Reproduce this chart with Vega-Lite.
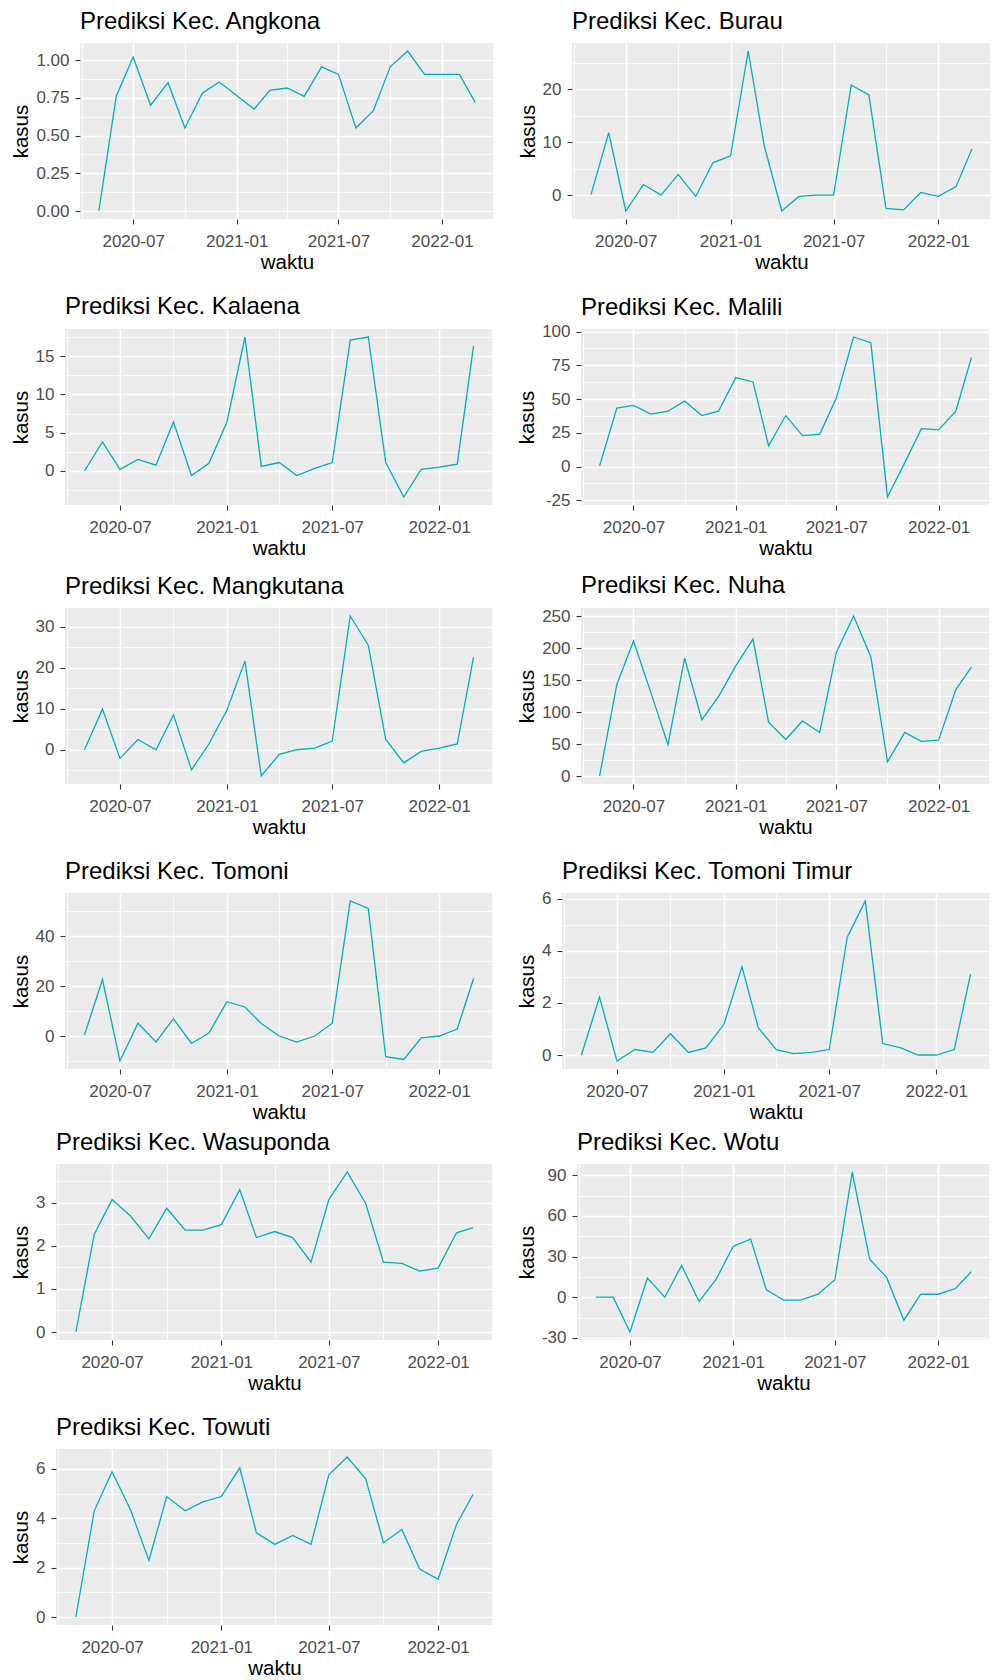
{
"$schema": "https://vega.github.io/schema/vega-lite/v6.json",
"padding": {"left": 10, "top": 10, "right": 0, "bottom": 0},
"datasets": {
"Angkona": [{"waktu":"2020-05-01","kasus":0},{"waktu":"2020-06-01","kasus":0.76},{"waktu":"2020-07-01","kasus":1.02},{"waktu":"2020-08-01","kasus":0.70},{"waktu":"2020-09-01","kasus":0.85},{"waktu":"2020-10-01","kasus":0.55},{"waktu":"2020-11-01","kasus":0.78},{"waktu":"2020-12-01","kasus":0.855},{"waktu":"2021-01-01","kasus":0.765},{"waktu":"2021-02-01","kasus":0.675},{"waktu":"2021-03-01","kasus":0.80},{"waktu":"2021-04-01","kasus":0.815},{"waktu":"2021-05-01","kasus":0.76},{"waktu":"2021-06-01","kasus":0.955},{"waktu":"2021-07-01","kasus":0.905},{"waktu":"2021-08-01","kasus":0.55},{"waktu":"2021-09-01","kasus":0.665},{"waktu":"2021-10-01","kasus":0.955},{"waktu":"2021-11-01","kasus":1.06},{"waktu":"2021-12-01","kasus":0.905},{"waktu":"2022-01-01","kasus":0.905},{"waktu":"2022-02-01","kasus":0.905},{"waktu":"2022-03-01","kasus":0.72}],
"Burau": [{"waktu":"2020-05-01","kasus":0.1},{"waktu":"2020-06-01","kasus":11.8},{"waktu":"2020-07-01","kasus":-3.0},{"waktu":"2020-08-01","kasus":2.0},{"waktu":"2020-09-01","kasus":0},{"waktu":"2020-10-01","kasus":3.9},{"waktu":"2020-11-01","kasus":-0.25},{"waktu":"2020-12-01","kasus":6.1},{"waktu":"2021-01-01","kasus":7.4},{"waktu":"2021-02-01","kasus":27.2},{"waktu":"2021-03-01","kasus":9.4},{"waktu":"2021-04-01","kasus":-3.0},{"waktu":"2021-05-01","kasus":-0.25},{"waktu":"2021-06-01","kasus":0},{"waktu":"2021-07-01","kasus":0},{"waktu":"2021-08-01","kasus":20.8},{"waktu":"2021-09-01","kasus":18.9},{"waktu":"2021-10-01","kasus":-2.5},{"waktu":"2021-11-01","kasus":-2.8},{"waktu":"2021-12-01","kasus":0.5},{"waktu":"2022-01-01","kasus":-0.25},{"waktu":"2022-02-01","kasus":1.6},{"waktu":"2022-03-01","kasus":8.7}],
"Kalaena": [{"waktu":"2020-05-01","kasus":0},{"waktu":"2020-06-01","kasus":3.8},{"waktu":"2020-07-01","kasus":0.2},{"waktu":"2020-08-01","kasus":1.5},{"waktu":"2020-09-01","kasus":0.75},{"waktu":"2020-10-01","kasus":6.4},{"waktu":"2020-11-01","kasus":-0.6},{"waktu":"2020-12-01","kasus":1.0},{"waktu":"2021-01-01","kasus":6.4},{"waktu":"2021-02-01","kasus":17.5},{"waktu":"2021-03-01","kasus":0.6},{"waktu":"2021-04-01","kasus":1.1},{"waktu":"2021-05-01","kasus":-0.6},{"waktu":"2021-06-01","kasus":0.35},{"waktu":"2021-07-01","kasus":1.1},{"waktu":"2021-08-01","kasus":17.1},{"waktu":"2021-09-01","kasus":17.5},{"waktu":"2021-10-01","kasus":1.1},{"waktu":"2021-11-01","kasus":-3.4},{"waktu":"2021-12-01","kasus":0.2},{"waktu":"2022-01-01","kasus":0.5},{"waktu":"2022-02-01","kasus":0.9},{"waktu":"2022-03-01","kasus":16.3}],
"Malili": [{"waktu":"2020-05-01","kasus":0.5},{"waktu":"2020-06-01","kasus":43.3},{"waktu":"2020-07-01","kasus":45.3},{"waktu":"2020-08-01","kasus":38.8},{"waktu":"2020-09-01","kasus":41},{"waktu":"2020-10-01","kasus":48.5},{"waktu":"2020-11-01","kasus":37.8},{"waktu":"2020-12-01","kasus":41},{"waktu":"2021-01-01","kasus":65.9},{"waktu":"2021-02-01","kasus":62.7},{"waktu":"2021-03-01","kasus":15.4},{"waktu":"2021-04-01","kasus":37.8},{"waktu":"2021-05-01","kasus":22.9},{"waktu":"2021-06-01","kasus":23.9},{"waktu":"2021-07-01","kasus":50.7},{"waktu":"2021-08-01","kasus":96},{"waktu":"2021-09-01","kasus":91.8},{"waktu":"2021-10-01","kasus":-22.6},{"waktu":"2021-11-01","kasus":2.7},{"waktu":"2021-12-01","kasus":28.1},{"waktu":"2022-01-01","kasus":27.1},{"waktu":"2022-02-01","kasus":41},{"waktu":"2022-03-01","kasus":80.8}],
"Mangkutana": [{"waktu":"2020-05-01","kasus":0},{"waktu":"2020-06-01","kasus":9.9},{"waktu":"2020-07-01","kasus":-2.1},{"waktu":"2020-08-01","kasus":2.5},{"waktu":"2020-09-01","kasus":0},{"waktu":"2020-10-01","kasus":8.5},{"waktu":"2020-11-01","kasus":-4.9},{"waktu":"2020-12-01","kasus":1.4},{"waktu":"2021-01-01","kasus":9.7},{"waktu":"2021-02-01","kasus":21.6},{"waktu":"2021-03-01","kasus":-6.4},{"waktu":"2021-04-01","kasus":-1.1},{"waktu":"2021-05-01","kasus":0},{"waktu":"2021-06-01","kasus":0.4},{"waktu":"2021-07-01","kasus":2.1},{"waktu":"2021-08-01","kasus":32.6},{"waktu":"2021-09-01","kasus":25.5},{"waktu":"2021-10-01","kasus":2.5},{"waktu":"2021-11-01","kasus":-3.2},{"waktu":"2021-12-01","kasus":-0.4},{"waktu":"2022-01-01","kasus":0.4},{"waktu":"2022-02-01","kasus":1.4},{"waktu":"2022-03-01","kasus":22.6}],
"Nuha": [{"waktu":"2020-05-01","kasus":0},{"waktu":"2020-06-01","kasus":143},{"waktu":"2020-07-01","kasus":211},{"waktu":"2020-08-01","kasus":131},{"waktu":"2020-09-01","kasus":49},{"waktu":"2020-10-01","kasus":184},{"waktu":"2020-11-01","kasus":88},{"waktu":"2020-12-01","kasus":124},{"waktu":"2021-01-01","kasus":172},{"waktu":"2021-02-01","kasus":214},{"waktu":"2021-03-01","kasus":84},{"waktu":"2021-04-01","kasus":57},{"waktu":"2021-05-01","kasus":86},{"waktu":"2021-06-01","kasus":68},{"waktu":"2021-07-01","kasus":193},{"waktu":"2021-08-01","kasus":250},{"waktu":"2021-09-01","kasus":186},{"waktu":"2021-10-01","kasus":22},{"waktu":"2021-11-01","kasus":68},{"waktu":"2021-12-01","kasus":54},{"waktu":"2022-01-01","kasus":56},{"waktu":"2022-02-01","kasus":135},{"waktu":"2022-03-01","kasus":170}],
"Tomoni": [{"waktu":"2020-05-01","kasus":0.4},{"waktu":"2020-06-01","kasus":22.6},{"waktu":"2020-07-01","kasus":-10},{"waktu":"2020-08-01","kasus":5.1},{"waktu":"2020-09-01","kasus":-2.4},{"waktu":"2020-10-01","kasus":6.9},{"waktu":"2020-11-01","kasus":-3.0},{"waktu":"2020-12-01","kasus":1.2},{"waktu":"2021-01-01","kasus":13.7},{"waktu":"2021-02-01","kasus":11.6},{"waktu":"2021-03-01","kasus":5.0},{"waktu":"2021-04-01","kasus":0},{"waktu":"2021-05-01","kasus":-2.4},{"waktu":"2021-06-01","kasus":0},{"waktu":"2021-07-01","kasus":5.1},{"waktu":"2021-08-01","kasus":54},{"waktu":"2021-09-01","kasus":51},{"waktu":"2021-10-01","kasus":-8.3},{"waktu":"2021-11-01","kasus":-9.4},{"waktu":"2021-12-01","kasus":-0.7},{"waktu":"2022-01-01","kasus":0},{"waktu":"2022-02-01","kasus":2.8},{"waktu":"2022-03-01","kasus":23}],
"TomoniTimur": [{"waktu":"2020-05-01","kasus":0},{"waktu":"2020-06-01","kasus":2.23},{"waktu":"2020-07-01","kasus":-0.23},{"waktu":"2020-08-01","kasus":0.21},{"waktu":"2020-09-01","kasus":0.1},{"waktu":"2020-10-01","kasus":0.82},{"waktu":"2020-11-01","kasus":0.1},{"waktu":"2020-12-01","kasus":0.27},{"waktu":"2021-01-01","kasus":1.18},{"waktu":"2021-02-01","kasus":3.39},{"waktu":"2021-03-01","kasus":1.05},{"waktu":"2021-04-01","kasus":0.21},{"waktu":"2021-05-01","kasus":0.05},{"waktu":"2021-06-01","kasus":0.1},{"waktu":"2021-07-01","kasus":0.21},{"waktu":"2021-08-01","kasus":4.53},{"waktu":"2021-09-01","kasus":5.92},{"waktu":"2021-10-01","kasus":0.44},{"waktu":"2021-11-01","kasus":0.27},{"waktu":"2021-12-01","kasus":0},{"waktu":"2022-01-01","kasus":0},{"waktu":"2022-02-01","kasus":0.21},{"waktu":"2022-03-01","kasus":3.11}],
"Wasuponda": [{"waktu":"2020-05-01","kasus":0},{"waktu":"2020-06-01","kasus":2.27},{"waktu":"2020-07-01","kasus":3.07},{"waktu":"2020-08-01","kasus":2.69},{"waktu":"2020-09-01","kasus":2.16},{"waktu":"2020-10-01","kasus":2.87},{"waktu":"2020-11-01","kasus":2.36},{"waktu":"2020-12-01","kasus":2.36},{"waktu":"2021-01-01","kasus":2.49},{"waktu":"2021-02-01","kasus":3.30},{"waktu":"2021-03-01","kasus":2.19},{"waktu":"2021-04-01","kasus":2.33},{"waktu":"2021-05-01","kasus":2.19},{"waktu":"2021-06-01","kasus":1.62},{"waktu":"2021-07-01","kasus":3.07},{"waktu":"2021-08-01","kasus":3.71},{"waktu":"2021-09-01","kasus":2.98},{"waktu":"2021-10-01","kasus":1.62},{"waktu":"2021-11-01","kasus":1.59},{"waktu":"2021-12-01","kasus":1.41},{"waktu":"2022-01-01","kasus":1.48},{"waktu":"2022-02-01","kasus":2.30},{"waktu":"2022-03-01","kasus":2.42}],
"Wotu": [{"waktu":"2020-05-01","kasus":0},{"waktu":"2020-06-01","kasus":0},{"waktu":"2020-07-01","kasus":-25.7},{"waktu":"2020-08-01","kasus":14.1},{"waktu":"2020-09-01","kasus":0},{"waktu":"2020-10-01","kasus":23.5},{"waktu":"2020-11-01","kasus":-3.2},{"waktu":"2020-12-01","kasus":12.9},{"waktu":"2021-01-01","kasus":37.6},{"waktu":"2021-02-01","kasus":43},{"waktu":"2021-03-01","kasus":5.4},{"waktu":"2021-04-01","kasus":-2.2},{"waktu":"2021-05-01","kasus":-2.2},{"waktu":"2021-06-01","kasus":2.2},{"waktu":"2021-07-01","kasus":12.9},{"waktu":"2021-08-01","kasus":92.5},{"waktu":"2021-09-01","kasus":28},{"waktu":"2021-10-01","kasus":14.8},{"waktu":"2021-11-01","kasus":-17},{"waktu":"2021-12-01","kasus":2.2},{"waktu":"2022-01-01","kasus":2.2},{"waktu":"2022-02-01","kasus":6.4},{"waktu":"2022-03-01","kasus":18.8}],
"Towuti": [{"waktu":"2020-05-01","kasus":0},{"waktu":"2020-06-01","kasus":4.3},{"waktu":"2020-07-01","kasus":5.88},{"waktu":"2020-08-01","kasus":4.34},{"waktu":"2020-09-01","kasus":2.29},{"waktu":"2020-10-01","kasus":4.88},{"waktu":"2020-11-01","kasus":4.3},{"waktu":"2020-12-01","kasus":4.66},{"waktu":"2021-01-01","kasus":4.88},{"waktu":"2021-02-01","kasus":6.04},{"waktu":"2021-03-01","kasus":3.41},{"waktu":"2021-04-01","kasus":2.94},{"waktu":"2021-05-01","kasus":3.3},{"waktu":"2021-06-01","kasus":2.94},{"waktu":"2021-07-01","kasus":5.76},{"waktu":"2021-08-01","kasus":6.48},{"waktu":"2021-09-01","kasus":5.6},{"waktu":"2021-10-01","kasus":3.01},{"waktu":"2021-11-01","kasus":3.54},{"waktu":"2021-12-01","kasus":1.94},{"waktu":"2022-01-01","kasus":1.53},{"waktu":"2022-02-01","kasus":3.75},{"waktu":"2022-03-01","kasus":4.97}]
},
"spacing": 22,
"vconcat": [
{"spacing": 24, "hconcat": [
 {"spacing": 0, "hconcat": [
  {"width": 1, "height": 1, "data": {"values": []}, "mark": "point", "view": {"fill": null, "stroke": null}},
  {"width": 414, "height": 176, "title": "Prediksi Kec. Angkona", "data": {"name": "Angkona"}, "mark": {"type": "line"},
   "encoding": {
    "x": {"field": "waktu", "type": "temporal", "scale": {"type": "utc", "domain": [{"year":2020,"month":3,"date":28,"hours":13,"utc":true},{"year":2022,"month":4,"date":3,"hours":11,"utc":true}]}, "axis": {"title": "waktu", "values": [{"year":2020,"month":4,"date":1,"utc":true},{"year":2020,"month":7,"date":1,"utc":true},{"year":2020,"month":10,"date":1,"utc":true},{"year":2021,"month":1,"date":1,"utc":true},{"year":2021,"month":4,"date":1,"utc":true},{"year":2021,"month":7,"date":1,"utc":true},{"year":2021,"month":10,"date":1,"utc":true},{"year":2022,"month":1,"date":1,"utc":true},{"year":2022,"month":4,"date":1,"utc":true}], "format": "%Y-%m", "labelExpr": "utcmonth(datum.value) % 6 == 3 ? '' : datum.label", "gridWidth": {"condition": {"test": "utcmonth(datum.value) % 6 == 3", "value": 0.8}, "value": 1.6}, "tickOpacity": {"condition": {"test": "utcmonth(datum.value) % 6 == 3", "value": 0}, "value": 1}}},
    "y": {"field": "kasus", "type": "quantitative", "scale": {"domain": [-0.053, 1.113], "zero": false, "nice": false}, "axis": {"title": "kasus", "values": [0, 0.125, 0.25, 0.375, 0.5, 0.625, 0.75, 0.875, 1], "labelExpr": "abs(datum.value / 0.25 - round(datum.value / 0.25)) > 0.25 ? '' : format(datum.value, '.2f')", "gridWidth": {"condition": {"test": "abs(datum.value / 0.25 - round(datum.value / 0.25)) > 0.25", "value": 0.8}, "value": 1.6}, "tickOpacity": {"condition": {"test": "abs(datum.value / 0.25 - round(datum.value / 0.25)) > 0.25", "value": 0}, "value": 1}}}
   }}
 ]},
 {"width": 419, "height": 176, "title": "Prediksi Kec. Burau", "data": {"name": "Burau"}, "mark": {"type": "line"},
  "encoding": {
   "x": {"field": "waktu", "type": "temporal", "scale": {"type": "utc", "domain": [{"year":2020,"month":3,"date":28,"hours":13,"utc":true},{"year":2022,"month":4,"date":3,"hours":11,"utc":true}]}, "axis": {"title": "waktu", "values": [{"year":2020,"month":4,"date":1,"utc":true},{"year":2020,"month":7,"date":1,"utc":true},{"year":2020,"month":10,"date":1,"utc":true},{"year":2021,"month":1,"date":1,"utc":true},{"year":2021,"month":4,"date":1,"utc":true},{"year":2021,"month":7,"date":1,"utc":true},{"year":2021,"month":10,"date":1,"utc":true},{"year":2022,"month":1,"date":1,"utc":true},{"year":2022,"month":4,"date":1,"utc":true}], "format": "%Y-%m", "labelExpr": "utcmonth(datum.value) % 6 == 3 ? '' : datum.label", "gridWidth": {"condition": {"test": "utcmonth(datum.value) % 6 == 3", "value": 0.8}, "value": 1.6}, "tickOpacity": {"condition": {"test": "utcmonth(datum.value) % 6 == 3", "value": 0}, "value": 1}}},
   "y": {"field": "kasus", "type": "quantitative", "scale": {"domain": [-4.51, 28.71], "zero": false, "nice": false}, "axis": {"title": "kasus", "values": [0, 5, 10, 15, 20, 25], "labelExpr": "abs(datum.value / 10 - round(datum.value / 10)) > 0.25 ? '' : toString(datum.value)", "gridWidth": {"condition": {"test": "abs(datum.value / 10 - round(datum.value / 10)) > 0.25", "value": 0.8}, "value": 1.6}, "tickOpacity": {"condition": {"test": "abs(datum.value / 10 - round(datum.value / 10)) > 0.25", "value": 0}, "value": 1}}}
  }}
]},
{"spacing": 14, "vconcat": [
{"spacing": 24, "hconcat": [
 {"spacing": 0, "hconcat": [
  {"width": 1, "height": 1, "data": {"values": []}, "mark": "point", "view": {"fill": null, "stroke": null}},
  {"width": 428, "height": 176, "title": "Prediksi Kec. Kalaena", "data": {"name": "Kalaena"}, "mark": {"type": "line"},
   "encoding": {
    "x": {"field": "waktu", "type": "temporal", "scale": {"type": "utc", "domain": [{"year":2020,"month":3,"date":28,"hours":13,"utc":true},{"year":2022,"month":4,"date":3,"hours":11,"utc":true}]}, "axis": {"title": "waktu", "values": [{"year":2020,"month":4,"date":1,"utc":true},{"year":2020,"month":7,"date":1,"utc":true},{"year":2020,"month":10,"date":1,"utc":true},{"year":2021,"month":1,"date":1,"utc":true},{"year":2021,"month":4,"date":1,"utc":true},{"year":2021,"month":7,"date":1,"utc":true},{"year":2021,"month":10,"date":1,"utc":true},{"year":2022,"month":1,"date":1,"utc":true},{"year":2022,"month":4,"date":1,"utc":true}], "format": "%Y-%m", "labelExpr": "utcmonth(datum.value) % 6 == 3 ? '' : datum.label", "gridWidth": {"condition": {"test": "utcmonth(datum.value) % 6 == 3", "value": 0.8}, "value": 1.6}, "tickOpacity": {"condition": {"test": "utcmonth(datum.value) % 6 == 3", "value": 0}, "value": 1}}},
    "y": {"field": "kasus", "type": "quantitative", "scale": {"domain": [-4.445, 18.545], "zero": false, "nice": false}, "axis": {"title": "kasus", "values": [-2.5, 0, 2.5, 5, 7.5, 10, 12.5, 15, 17.5], "labelExpr": "abs(datum.value / 5 - round(datum.value / 5)) > 0.25 ? '' : toString(datum.value)", "gridWidth": {"condition": {"test": "abs(datum.value / 5 - round(datum.value / 5)) > 0.25", "value": 0.8}, "value": 1.6}, "tickOpacity": {"condition": {"test": "abs(datum.value / 5 - round(datum.value / 5)) > 0.25", "value": 0}, "value": 1}}}
   }}
 ]},
 {"width": 409, "height": 176, "title": {"text": "Prediksi Kec. Malili", "offset": 3}, "data": {"name": "Malili"}, "mark": {"type": "line"},
  "encoding": {
   "x": {"field": "waktu", "type": "temporal", "scale": {"type": "utc", "domain": [{"year":2020,"month":3,"date":28,"hours":13,"utc":true},{"year":2022,"month":4,"date":3,"hours":11,"utc":true}]}, "axis": {"title": "waktu", "values": [{"year":2020,"month":4,"date":1,"utc":true},{"year":2020,"month":7,"date":1,"utc":true},{"year":2020,"month":10,"date":1,"utc":true},{"year":2021,"month":1,"date":1,"utc":true},{"year":2021,"month":4,"date":1,"utc":true},{"year":2021,"month":7,"date":1,"utc":true},{"year":2021,"month":10,"date":1,"utc":true},{"year":2022,"month":1,"date":1,"utc":true},{"year":2022,"month":4,"date":1,"utc":true}], "format": "%Y-%m", "labelExpr": "utcmonth(datum.value) % 6 == 3 ? '' : datum.label", "gridWidth": {"condition": {"test": "utcmonth(datum.value) % 6 == 3", "value": 0.8}, "value": 1.6}, "tickOpacity": {"condition": {"test": "utcmonth(datum.value) % 6 == 3", "value": 0}, "value": 1}}},
   "y": {"field": "kasus", "type": "quantitative", "scale": {"domain": [-28.53, 101.93], "zero": false, "nice": false}, "axis": {"title": "kasus", "values": [-25, -12.5, 0, 12.5, 25, 37.5, 50, 62.5, 75, 87.5, 100], "labelExpr": "abs(datum.value / 25 - round(datum.value / 25)) > 0.25 ? '' : toString(datum.value)", "gridWidth": {"condition": {"test": "abs(datum.value / 25 - round(datum.value / 25)) > 0.25", "value": 0.8}, "value": 1.6}, "tickOpacity": {"condition": {"test": "abs(datum.value / 25 - round(datum.value / 25)) > 0.25", "value": 0}, "value": 1}}}
  }}
]},
{"spacing": 21, "vconcat": [
{"spacing": 24, "hconcat": [
 {"spacing": 0, "hconcat": [
  {"width": 1, "height": 1, "data": {"values": []}, "mark": "point", "view": {"fill": null, "stroke": null}},
  {"width": 428, "height": 176, "title": "Prediksi Kec. Mangkutana", "data": {"name": "Mangkutana"}, "mark": {"type": "line"},
   "encoding": {
    "x": {"field": "waktu", "type": "temporal", "scale": {"type": "utc", "domain": [{"year":2020,"month":3,"date":28,"hours":13,"utc":true},{"year":2022,"month":4,"date":3,"hours":11,"utc":true}]}, "axis": {"title": "waktu", "values": [{"year":2020,"month":4,"date":1,"utc":true},{"year":2020,"month":7,"date":1,"utc":true},{"year":2020,"month":10,"date":1,"utc":true},{"year":2021,"month":1,"date":1,"utc":true},{"year":2021,"month":4,"date":1,"utc":true},{"year":2021,"month":7,"date":1,"utc":true},{"year":2021,"month":10,"date":1,"utc":true},{"year":2022,"month":1,"date":1,"utc":true},{"year":2022,"month":4,"date":1,"utc":true}], "format": "%Y-%m", "labelExpr": "utcmonth(datum.value) % 6 == 3 ? '' : datum.label", "gridWidth": {"condition": {"test": "utcmonth(datum.value) % 6 == 3", "value": 0.8}, "value": 1.6}, "tickOpacity": {"condition": {"test": "utcmonth(datum.value) % 6 == 3", "value": 0}, "value": 1}}},
    "y": {"field": "kasus", "type": "quantitative", "scale": {"domain": [-8.35, 34.55], "zero": false, "nice": false}, "axis": {"title": "kasus", "values": [-5, 0, 5, 10, 15, 20, 25, 30], "labelExpr": "abs(datum.value / 10 - round(datum.value / 10)) > 0.25 ? '' : toString(datum.value)", "gridWidth": {"condition": {"test": "abs(datum.value / 10 - round(datum.value / 10)) > 0.25", "value": 0.8}, "value": 1.6}, "tickOpacity": {"condition": {"test": "abs(datum.value / 10 - round(datum.value / 10)) > 0.25", "value": 0}, "value": 1}}}
   }}
 ]},
 {"width": 409, "height": 176, "title": "Prediksi Kec. Nuha", "data": {"name": "Nuha"}, "mark": {"type": "line"},
  "encoding": {
   "x": {"field": "waktu", "type": "temporal", "scale": {"type": "utc", "domain": [{"year":2020,"month":3,"date":28,"hours":13,"utc":true},{"year":2022,"month":4,"date":3,"hours":11,"utc":true}]}, "axis": {"title": "waktu", "values": [{"year":2020,"month":4,"date":1,"utc":true},{"year":2020,"month":7,"date":1,"utc":true},{"year":2020,"month":10,"date":1,"utc":true},{"year":2021,"month":1,"date":1,"utc":true},{"year":2021,"month":4,"date":1,"utc":true},{"year":2021,"month":7,"date":1,"utc":true},{"year":2021,"month":10,"date":1,"utc":true},{"year":2022,"month":1,"date":1,"utc":true},{"year":2022,"month":4,"date":1,"utc":true}], "format": "%Y-%m", "labelExpr": "utcmonth(datum.value) % 6 == 3 ? '' : datum.label", "gridWidth": {"condition": {"test": "utcmonth(datum.value) % 6 == 3", "value": 0.8}, "value": 1.6}, "tickOpacity": {"condition": {"test": "utcmonth(datum.value) % 6 == 3", "value": 0}, "value": 1}}},
   "y": {"field": "kasus", "type": "quantitative", "scale": {"domain": [-12.5, 262.5], "zero": false, "nice": false}, "axis": {"title": "kasus", "values": [0, 25, 50, 75, 100, 125, 150, 175, 200, 225, 250], "labelExpr": "abs(datum.value / 50 - round(datum.value / 50)) > 0.25 ? '' : toString(datum.value)", "gridWidth": {"condition": {"test": "abs(datum.value / 50 - round(datum.value / 50)) > 0.25", "value": 0.8}, "value": 1.6}, "tickOpacity": {"condition": {"test": "abs(datum.value / 50 - round(datum.value / 50)) > 0.25", "value": 0}, "value": 1}}}
  }}
]},
{"spacing": 8, "vconcat": [
{"spacing": 24, "hconcat": [
 {"spacing": 0, "hconcat": [
  {"width": 1, "height": 1, "data": {"values": []}, "mark": "point", "view": {"fill": null, "stroke": null}},
  {"width": 428, "height": 176, "title": "Prediksi Kec. Tomoni", "data": {"name": "Tomoni"}, "mark": {"type": "line"},
   "encoding": {
    "x": {"field": "waktu", "type": "temporal", "scale": {"type": "utc", "domain": [{"year":2020,"month":3,"date":28,"hours":13,"utc":true},{"year":2022,"month":4,"date":3,"hours":11,"utc":true}]}, "axis": {"title": "waktu", "values": [{"year":2020,"month":4,"date":1,"utc":true},{"year":2020,"month":7,"date":1,"utc":true},{"year":2020,"month":10,"date":1,"utc":true},{"year":2021,"month":1,"date":1,"utc":true},{"year":2021,"month":4,"date":1,"utc":true},{"year":2021,"month":7,"date":1,"utc":true},{"year":2021,"month":10,"date":1,"utc":true},{"year":2022,"month":1,"date":1,"utc":true},{"year":2022,"month":4,"date":1,"utc":true}], "format": "%Y-%m", "labelExpr": "utcmonth(datum.value) % 6 == 3 ? '' : datum.label", "gridWidth": {"condition": {"test": "utcmonth(datum.value) % 6 == 3", "value": 0.8}, "value": 1.6}, "tickOpacity": {"condition": {"test": "utcmonth(datum.value) % 6 == 3", "value": 0}, "value": 1}}},
    "y": {"field": "kasus", "type": "quantitative", "scale": {"domain": [-13.2, 57.2], "zero": false, "nice": false}, "axis": {"title": "kasus", "values": [-10, 0, 10, 20, 30, 40, 50], "labelExpr": "abs(datum.value / 20 - round(datum.value / 20)) > 0.25 ? '' : toString(datum.value)", "gridWidth": {"condition": {"test": "abs(datum.value / 20 - round(datum.value / 20)) > 0.25", "value": 0.8}, "value": 1.6}, "tickOpacity": {"condition": {"test": "abs(datum.value / 20 - round(datum.value / 20)) > 0.25", "value": 0}, "value": 1}}}
   }}
 ]},
 {"width": 428, "height": 176, "title": {"text": "Prediksi Kec. Tomoni Timur", "offset": 6.4}, "data": {"name": "TomoniTimur"}, "mark": {"type": "line"},
  "encoding": {
   "x": {"field": "waktu", "type": "temporal", "scale": {"type": "utc", "domain": [{"year":2020,"month":3,"date":28,"hours":13,"utc":true},{"year":2022,"month":4,"date":3,"hours":11,"utc":true}]}, "axis": {"title": "waktu", "values": [{"year":2020,"month":4,"date":1,"utc":true},{"year":2020,"month":7,"date":1,"utc":true},{"year":2020,"month":10,"date":1,"utc":true},{"year":2021,"month":1,"date":1,"utc":true},{"year":2021,"month":4,"date":1,"utc":true},{"year":2021,"month":7,"date":1,"utc":true},{"year":2021,"month":10,"date":1,"utc":true},{"year":2022,"month":1,"date":1,"utc":true},{"year":2022,"month":4,"date":1,"utc":true}], "format": "%Y-%m", "labelExpr": "utcmonth(datum.value) % 6 == 3 ? '' : datum.label", "gridWidth": {"condition": {"test": "utcmonth(datum.value) % 6 == 3", "value": 0.8}, "value": 1.6}, "tickOpacity": {"condition": {"test": "utcmonth(datum.value) % 6 == 3", "value": 0}, "value": 1}}},
   "y": {"field": "kasus", "type": "quantitative", "scale": {"domain": [-0.5375, 6.2275], "zero": false, "nice": false}, "axis": {"title": "kasus", "values": [0, 1, 2, 3, 4, 5, 6], "labelExpr": "abs(datum.value / 2 - round(datum.value / 2)) > 0.25 ? '' : toString(datum.value)", "gridWidth": {"condition": {"test": "abs(datum.value / 2 - round(datum.value / 2)) > 0.25", "value": 0.8}, "value": 1.6}, "tickOpacity": {"condition": {"test": "abs(datum.value / 2 - round(datum.value / 2)) > 0.25", "value": 0}, "value": 1}}}
  }}
]},
{"spacing": 22, "vconcat": [
{"spacing": 24, "hconcat": [
 {"spacing": 0, "hconcat": [
  {"width": 1, "height": 1, "data": {"values": []}, "mark": "point", "view": {"fill": null, "stroke": null}},
  {"width": 437, "height": 176, "title": "Prediksi Kec. Wasuponda", "data": {"name": "Wasuponda"}, "mark": {"type": "line"},
   "encoding": {
    "x": {"field": "waktu", "type": "temporal", "scale": {"type": "utc", "domain": [{"year":2020,"month":3,"date":28,"hours":13,"utc":true},{"year":2022,"month":4,"date":3,"hours":11,"utc":true}]}, "axis": {"title": "waktu", "values": [{"year":2020,"month":4,"date":1,"utc":true},{"year":2020,"month":7,"date":1,"utc":true},{"year":2020,"month":10,"date":1,"utc":true},{"year":2021,"month":1,"date":1,"utc":true},{"year":2021,"month":4,"date":1,"utc":true},{"year":2021,"month":7,"date":1,"utc":true},{"year":2021,"month":10,"date":1,"utc":true},{"year":2022,"month":1,"date":1,"utc":true},{"year":2022,"month":4,"date":1,"utc":true}], "format": "%Y-%m", "labelExpr": "utcmonth(datum.value) % 6 == 3 ? '' : datum.label", "gridWidth": {"condition": {"test": "utcmonth(datum.value) % 6 == 3", "value": 0.8}, "value": 1.6}, "tickOpacity": {"condition": {"test": "utcmonth(datum.value) % 6 == 3", "value": 0}, "value": 1}}},
    "y": {"field": "kasus", "type": "quantitative", "scale": {"domain": [-0.1855, 3.8955], "zero": false, "nice": false}, "axis": {"title": "kasus", "values": [0, 0.5, 1, 1.5, 2, 2.5, 3, 3.5], "labelExpr": "abs(datum.value - round(datum.value)) > 0.25 ? '' : toString(datum.value)", "gridWidth": {"condition": {"test": "abs(datum.value - round(datum.value)) > 0.25", "value": 0.8}, "value": 1.6}, "tickOpacity": {"condition": {"test": "abs(datum.value - round(datum.value)) > 0.25", "value": 0}, "value": 1}}}
   }}
 ]},
 {"width": 413, "height": 176, "title": "Prediksi Kec. Wotu", "data": {"name": "Wotu"}, "mark": {"type": "line"},
  "encoding": {
   "x": {"field": "waktu", "type": "temporal", "scale": {"type": "utc", "domain": [{"year":2020,"month":3,"date":28,"hours":13,"utc":true},{"year":2022,"month":4,"date":3,"hours":11,"utc":true}]}, "axis": {"title": "waktu", "values": [{"year":2020,"month":4,"date":1,"utc":true},{"year":2020,"month":7,"date":1,"utc":true},{"year":2020,"month":10,"date":1,"utc":true},{"year":2021,"month":1,"date":1,"utc":true},{"year":2021,"month":4,"date":1,"utc":true},{"year":2021,"month":7,"date":1,"utc":true},{"year":2021,"month":10,"date":1,"utc":true},{"year":2022,"month":1,"date":1,"utc":true},{"year":2022,"month":4,"date":1,"utc":true}], "format": "%Y-%m", "labelExpr": "utcmonth(datum.value) % 6 == 3 ? '' : datum.label", "gridWidth": {"condition": {"test": "utcmonth(datum.value) % 6 == 3", "value": 0.8}, "value": 1.6}, "tickOpacity": {"condition": {"test": "utcmonth(datum.value) % 6 == 3", "value": 0}, "value": 1}}},
   "y": {"field": "kasus", "type": "quantitative", "scale": {"domain": [-31.61, 98.41], "zero": false, "nice": false}, "axis": {"title": "kasus", "values": [-30, -15, 0, 15, 30, 45, 60, 75, 90], "labelExpr": "abs(datum.value / 30 - round(datum.value / 30)) > 0.25 ? '' : toString(datum.value)", "gridWidth": {"condition": {"test": "abs(datum.value / 30 - round(datum.value / 30)) > 0.25", "value": 0.8}, "value": 1.6}, "tickOpacity": {"condition": {"test": "abs(datum.value / 30 - round(datum.value / 30)) > 0.25", "value": 0}, "value": 1}}}
  }}
]},
{"spacing": 0, "hconcat": [
 {"width": 1, "height": 1, "data": {"values": []}, "mark": "point", "view": {"fill": null, "stroke": null}},
 {"width": 437, "height": 176, "title": "Prediksi Kec. Towuti", "data": {"name": "Towuti"}, "mark": {"type": "line"},
  "encoding": {
   "x": {"field": "waktu", "type": "temporal", "scale": {"type": "utc", "domain": [{"year":2020,"month":3,"date":28,"hours":13,"utc":true},{"year":2022,"month":4,"date":3,"hours":11,"utc":true}]}, "axis": {"title": "waktu", "values": [{"year":2020,"month":4,"date":1,"utc":true},{"year":2020,"month":7,"date":1,"utc":true},{"year":2020,"month":10,"date":1,"utc":true},{"year":2021,"month":1,"date":1,"utc":true},{"year":2021,"month":4,"date":1,"utc":true},{"year":2021,"month":7,"date":1,"utc":true},{"year":2021,"month":10,"date":1,"utc":true},{"year":2022,"month":1,"date":1,"utc":true},{"year":2022,"month":4,"date":1,"utc":true}], "format": "%Y-%m", "labelExpr": "utcmonth(datum.value) % 6 == 3 ? '' : datum.label", "gridWidth": {"condition": {"test": "utcmonth(datum.value) % 6 == 3", "value": 0.8}, "value": 1.6}, "tickOpacity": {"condition": {"test": "utcmonth(datum.value) % 6 == 3", "value": 0}, "value": 1}}},
   "y": {"field": "kasus", "type": "quantitative", "scale": {"domain": [-0.324, 6.804], "zero": false, "nice": false}, "axis": {"title": "kasus", "values": [0, 1, 2, 3, 4, 5, 6], "labelExpr": "abs(datum.value / 2 - round(datum.value / 2)) > 0.25 ? '' : toString(datum.value)", "gridWidth": {"condition": {"test": "abs(datum.value / 2 - round(datum.value / 2)) > 0.25", "value": 0.8}, "value": 1.6}, "tickOpacity": {"condition": {"test": "abs(datum.value / 2 - round(datum.value / 2)) > 0.25", "value": 0}, "value": 1}}}
  }}
]}
]}
]}
]}
]}
],
"config": {
 "font": "Liberation Sans",
 "view": {"fill": "#EBEBEB", "stroke": null},
 "axis": {"domain": false, "grid": true, "gridColor": "#FFFFFF", "tickColor": "#333333", "tickSize": 5, "tickWidth": 1.1, "labelColor": "#4D4D4D", "labelFont": "Liberation Sans", "labelFontSize": 17, "titleFont": "Liberation Sans", "titleFontSize": 20.5, "titleFontWeight": "normal", "titleColor": "#000000", "labelOverlap": false, "labelFlush": false, "labelBound": false},
 "axisX": {"labelPadding": 9, "titlePadding": 3, "labelAngle": 0},
 "axisY": {"labelPadding": 6, "titlePadding": 4},
 "title": {"anchor": "start", "frame": "group", "font": "Liberation Sans", "fontSize": 24, "fontWeight": "normal", "color": "#000000", "offset": 9},
 "line": {"color": "#00AFBB", "strokeWidth": 1.3}
}
}
